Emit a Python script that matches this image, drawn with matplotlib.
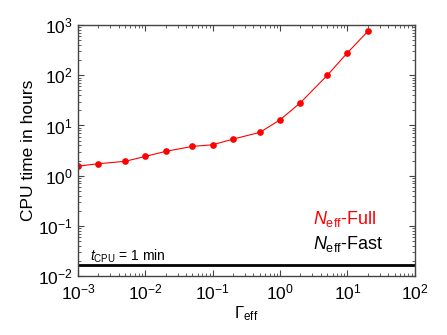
import matplotlib.pyplot as plt
import numpy as np

plt.rcParams['font.family'] = ['Liberation Sans', 'DejaVu Sans']
plt.rcParams['mathtext.fontset'] = 'custom'
plt.rcParams['mathtext.rm'] = 'Liberation Sans'
plt.rcParams['mathtext.it'] = 'Liberation Sans:italic'

# datos
gamma_eff = [1e-3, 2e-3, 5e-3, 1e-2, 2e-2, 5e-2, 1e-1, 2e-1, 5e-1, 1, 2, 5, 10, 20]
cpu_full = [1.55, 1.73, 1.93, 2.42, 3.05, 3.83, 4.13, 5.36, 7.28, 13.0, 28.3, 99.6, 281, 750]
cpu_fast = 1 / 60.0  # 1 min en horas

fig = plt.figure(figsize=(4.47, 3.35), dpi=100)
ax = fig.add_axes([0.1745, 0.176, 0.7535, 0.749])

ax.plot(gamma_eff, cpu_full, '-o', color='red', lw=0.8, ms=3.8, label=r'$N_{\rm eff}$-Full')
ax.axhline(cpu_fast, color='black', lw=2, label=r'$N_{\rm eff}$-Fast')

ax.set_xscale('log')
ax.set_yscale('log')
ax.set_xlim(1e-3, 1e2)
ax.set_ylim(1e-2, 1e3)

ax.set_xlabel(r'$\Gamma_{\rm eff}$', fontsize=12, labelpad=1)
ax.set_ylabel('CPU time in hours', fontsize=12.5, labelpad=1)

for s in ax.spines.values():
    s.set_color('#444444')
    s.set_linewidth(1.0)
ax.tick_params(which='both', direction='in', top=True, right=True, colors='#444444',
               labelcolor='black', labelsize=12.5)
ax.tick_params(which='major', length=4)
ax.tick_params(which='minor', length=2)
ax.tick_params(axis='x', pad=5)
ax.tick_params(axis='y', pad=4)
ax.xaxis.set_major_locator(plt.LogLocator(base=10, numticks=10))
ax.xaxis.set_minor_locator(plt.LogLocator(base=10, subs=np.arange(2, 10), numticks=20))
ax.yaxis.set_minor_locator(plt.LogLocator(base=10, subs=np.arange(2, 10), numticks=20))

ax.text(1.5e-3, 0.0205, r'$t_{\rm CPU}$ = 1 min', fontsize=10)

leg = ax.legend(loc='lower right', bbox_to_anchor=(0.955, 0.025), frameon=False,
                handlelength=0, handletextpad=0, labelcolor='linecolor',
                fontsize=13, labelspacing=0.25)
for h in leg.legend_handles:
    h.set_visible(False)

fig.savefig('out.png', dpi=100)
